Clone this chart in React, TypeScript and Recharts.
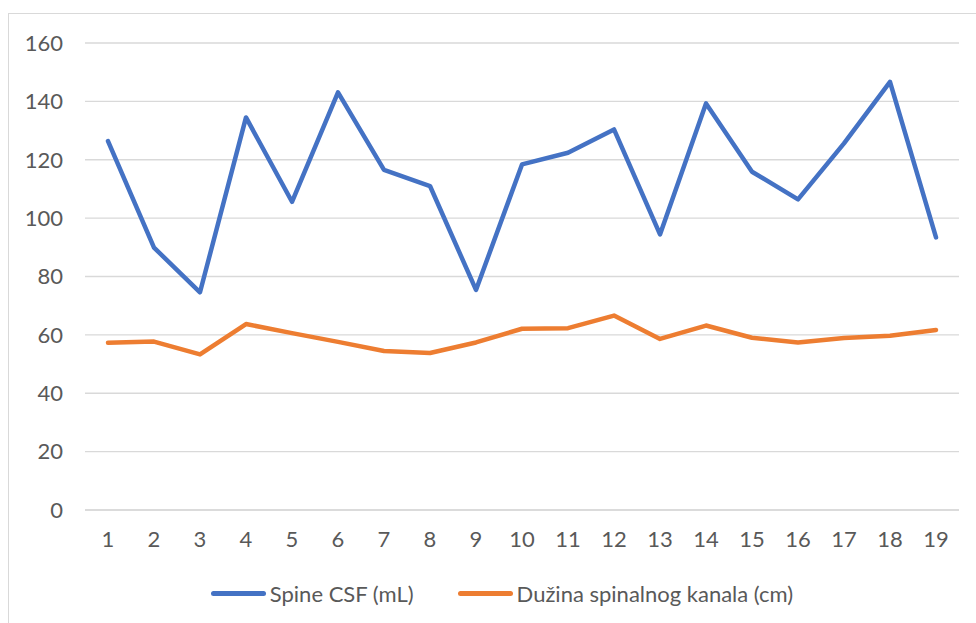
import { LineChart, Line, XAxis, YAxis, CartesianGrid, Legend } from "recharts";

const CATEGORIES = ["1", "2", "3", "4", "5", "6", "7", "8", "9", "10", "11", "12", "13", "14", "15", "16", "17", "18", "19"];
const SPINE_CSF = [126.4, 89.9, 74.6, 134.5, 105.6, 143.1, 116.5, 111.0, 75.4, 118.4, 122.4, 130.4, 94.4, 139.3, 115.9, 106.4, 125.6, 146.7, 93.4];
const DUZINA = [57.3, 57.7, 53.3, 63.7, 60.6, 57.6, 54.5, 53.8, 57.4, 62.1, 62.3, 66.6, 58.6, 63.2, 59.0, 57.4, 58.9, 59.7, 61.7];
const Y_TICKS = [0, 20, 40, 60, 80, 100, 120, 140, 160];

const SERIES = [
  { key: "csf", name: "Spine CSF (mL)", color: "#4472C4" },
  { key: "len", name: "Dužina spinalnog kanala (cm)", color: "#ED7D31" },
];

const FONT = "Lato, 'Open Sans', sans-serif";
const TEXT = "#595959";

const data = CATEGORIES.map((c, i) => ({ cat: c, csf: SPINE_CSF[i], len: DUZINA[i] }));

function LegendContent() {
  return (
    <div style={{ display: "flex", justifyContent: "center", paddingLeft: 28, fontFamily: FONT, fontSize: 22, color: TEXT }}>
      {SERIES.map((s) => (
        <div key={s.key} style={{ display: "flex", alignItems: "center", margin: "0 22px" }}>
          <div style={{ width: 55, height: 5, borderRadius: 3, background: s.color, marginRight: 4 }} />
          <span>{s.name}</span>
        </div>
      ))}
    </div>
  );
}

export default function App() {
  return (
    <div style={{ position: "absolute", left: 0, top: 0, width: 976, height: 623, overflow: "hidden", background: "#fff" }}>
      <div style={{ position: "absolute", left: 8, top: 13, width: 1000, height: 700, border: "1.5px solid #d9d9d9" }} />
      <LineChart width={976} height={623} data={data} margin={{ top: 43, right: 17, bottom: 46, left: 25 }}>
        <CartesianGrid vertical={false} stroke="#d9d9d9" strokeWidth={1.3} />
        <XAxis
          dataKey="cat"
          padding={{ left: 23, right: 23 }}
          axisLine={{ stroke: "#d9d9d9", strokeWidth: 1.3 }}
          tickLine={false}
          tickSize={0}
          tickMargin={21}
          height={40}
          interval={0}
          tick={{ fill: TEXT, fontSize: 22, fontFamily: FONT }}
        />
        <YAxis
          domain={[0, 160]}
          ticks={Y_TICKS}
          axisLine={false}
          tickLine={false}
          tickSize={0}
          tickMargin={22}
          width={60}
          tick={{ fill: TEXT, fontSize: 22, fontFamily: FONT }}
        />
        <Legend content={<LegendContent />} wrapperStyle={{ left: 0, top: 580, width: 976 }} />
        {SERIES.map((s) => (
          <Line
            key={s.key}
            type="linear"
            dataKey={s.key}
            name={s.name}
            stroke={s.color}
            strokeWidth={4.5}
            strokeLinejoin="round"
            strokeLinecap="round"
            dot={false}
            isAnimationActive={false}
          />
        ))}
      </LineChart>
    </div>
  );
}
